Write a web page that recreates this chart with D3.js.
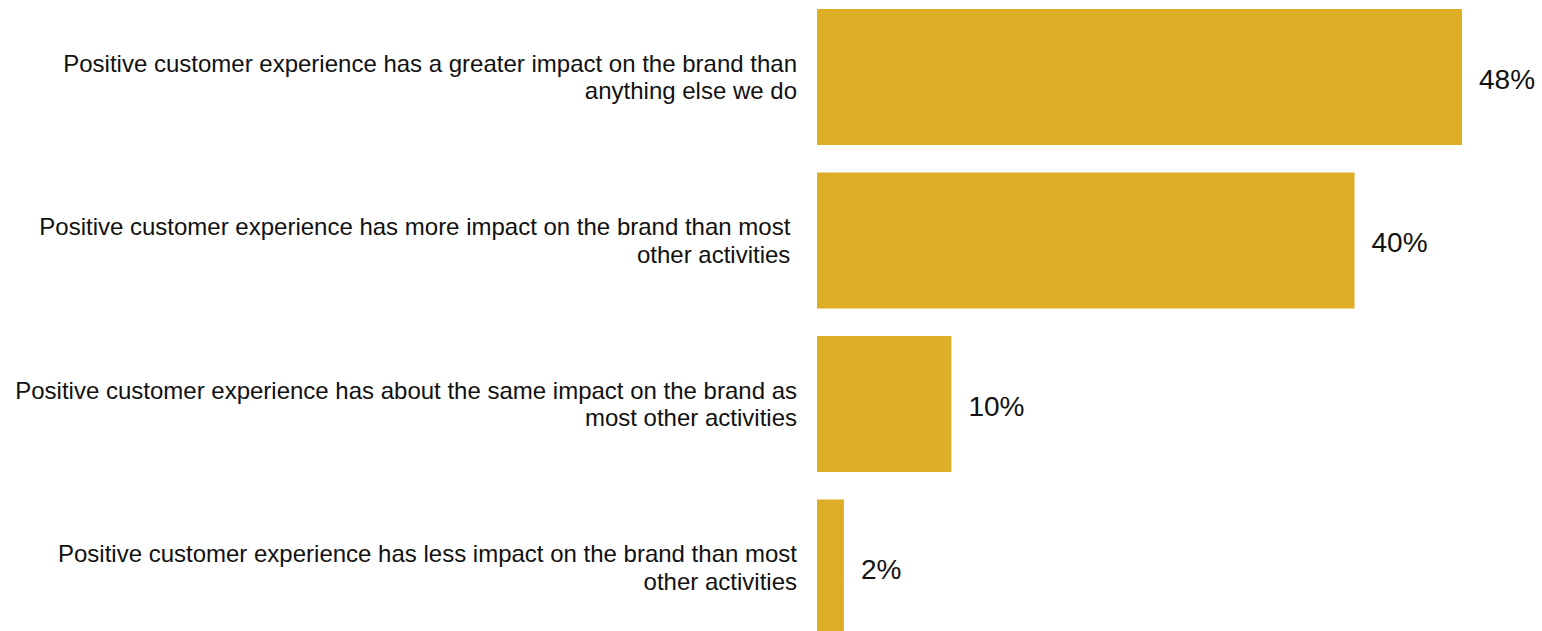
<!DOCTYPE html>
<html>
<head>
<meta charset="utf-8">
<script src="https://cdn.jsdelivr.net/npm/d3@7"></script>
<style>
  html, body { margin: 0; padding: 0; background: #ffffff; }
  svg { display: block; }
  .cat-label { font-family: "Liberation Sans", Arial, sans-serif; font-size: 24px; fill: #111111; white-space: pre; }
  .val-label { font-family: "Liberation Sans", Arial, sans-serif; font-size: 28px; fill: #111111; }
</style>
</head>
<body>
<svg id="chart" width="1542" height="631"></svg>
<script>
// Survey responses: share of respondents per statement
const categories = [
  ["Positive customer experience has a greater impact on the brand than", "anything else we do"],
  ["Positive customer experience has more impact on the brand than most ", "other activities "],
  ["Positive customer experience has about the same impact on the brand as", "most other activities"],
  ["Positive customer experience has less impact on the brand than most", "other activities"]
];
const values = [48, 40, 10, 2];
const valueLabels = ["48%", "40%", "10%", "2%"];

const barLeft = 817;
const svg = d3.select("#chart");

const x = d3.scaleLinear().domain([0, 48]).range([barLeft, 1462]);
const y = d3.scaleBand()
  .domain(d3.range(categories.length))
  .range([9, 635.5])
  .paddingInner(0.168)
  .paddingOuter(0);

const rows = svg.selectAll("g.row")
  .data(values.map((v, i) => ({ v, i })))
  .join("g")
  .attr("class", "row");

rows.append("rect")
  .attr("x", x(0))
  .attr("y", d => y(d.i))
  .attr("width", d => x(d.v) - x(0))
  .attr("height", y.bandwidth())
  .attr("fill", "#DEAE27");

rows.append("text")
  .attr("class", "val-label")
  .attr("x", d => x(d.v) + 17)
  .attr("y", d => y(d.i) + y.bandwidth() / 2)
  .attr("dy", "0.42em")
  .text(d => valueLabels[d.i]);

const lineGap = 27.6;
rows.each(function (d) {
  const lines = categories[d.i];
  const cy = y(d.i) + y.bandwidth() / 2;
  const t = d3.select(this).append("text")
    .attr("class", "cat-label")
    .attr("text-anchor", "end");
  lines.forEach((ln, k) => {
    t.append("tspan")
      .attr("x", 797)
      .attr("y", cy + (k - (lines.length - 1) / 2) * lineGap)
      .attr("dy", "0.35em")
      .text(ln);
  });
});
</script>
</body>
</html>
